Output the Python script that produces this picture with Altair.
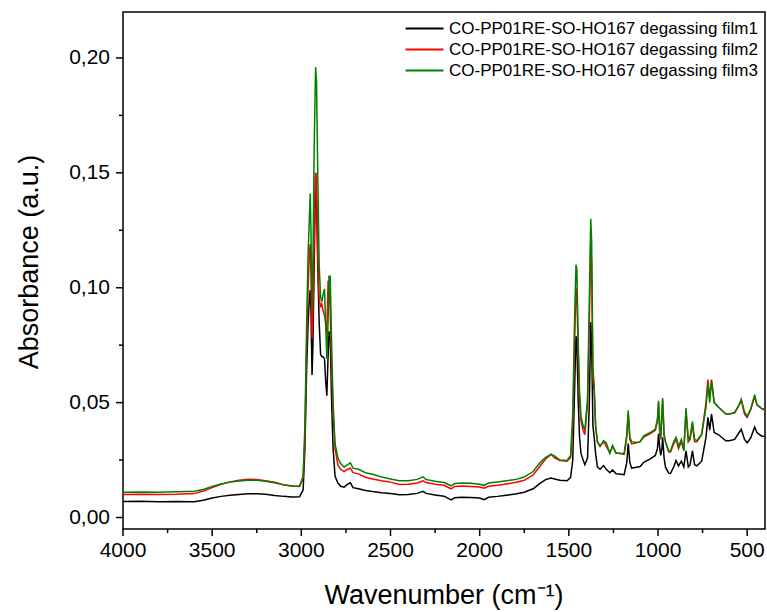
import altair as alt
import pandas as pd

# Wavenumber grid (cm-1) and absorbance of the three films
wavenumber = [4000, 3900, 3800, 3700, 3600, 3550, 3500, 3450, 3400, 3350, 3300, 3250, 3200, 3150, 3100, 3050, 3010,
              2990, 2980, 2970, 2962, 2955, 2950, 2946, 2940, 2935, 2928, 2920, 2915, 2908, 2900, 2892, 2885, 2878,
              2870, 2864, 2857, 2850, 2845, 2838, 2830, 2822, 2811, 2795, 2780, 2760, 2740, 2725, 2710, 2680, 2640,
              2600, 2550, 2500, 2450, 2400, 2350, 2318, 2300, 2250, 2200, 2160, 2140, 2100, 2050, 2000, 1975, 1950,
              1900, 1850, 1800, 1750, 1700, 1660, 1630, 1600, 1580, 1550, 1510, 1490, 1478, 1468, 1460, 1455, 1447,
              1440, 1432, 1420, 1410, 1395, 1385, 1377, 1372, 1365, 1358, 1350, 1340, 1325, 1305, 1290, 1270, 1255,
              1235, 1220, 1190, 1175, 1167, 1158, 1148, 1120, 1100, 1080, 1043, 1015, 1003, 997, 990, 985, 978, 974,
              966, 958, 940, 930, 912, 899, 885, 869, 855, 843, 830, 820, 807, 795, 782, 755, 731, 720, 710, 700,
              685, 660, 620, 600, 570, 545, 533, 515, 500, 480, 458, 445, 420, 400]

film1 = [0.0070, 0.0071, 0.0069, 0.0070, 0.0069, 0.0075, 0.0085, 0.0092, 0.0097, 0.0100, 0.0103, 0.0103, 0.0101,
         0.0096, 0.0092, 0.0089, 0.0090,
         0.0120, 0.030, 0.065, 0.085, 0.095, 0.099, 0.090, 0.062, 0.075, 0.110, 0.150, 0.140, 0.110, 0.085, 0.071,
         0.070, 0.070, 0.069, 0.060, 0.053, 0.070, 0.081, 0.078, 0.050, 0.030, 0.018, 0.015, 0.0136, 0.0132, 0.0145,
         0.0151, 0.0130, 0.0125, 0.0118, 0.0113, 0.0108, 0.0104, 0.0099, 0.0100, 0.0105, 0.0114, 0.0105, 0.0098,
         0.0093, 0.0077, 0.0086, 0.0088, 0.0087, 0.0085, 0.0078, 0.0088, 0.0092, 0.0097, 0.0102, 0.0110, 0.0125,
         0.0150, 0.0165, 0.0172, 0.0168, 0.0162, 0.0160, 0.0175, 0.025, 0.055, 0.079, 0.076, 0.050, 0.035, 0.028,
         0.025, 0.023, 0.026, 0.050, 0.085, 0.075, 0.040, 0.035, 0.028, 0.022, 0.021, 0.0226, 0.021, 0.0195,
         0.0207, 0.0190, 0.0189, 0.0186, 0.024, 0.0322, 0.024, 0.0215, 0.0219, 0.0222, 0.0240, 0.0255, 0.0270,
         0.030, 0.0364, 0.030, 0.027, 0.030, 0.0349, 0.026, 0.0219, 0.0193, 0.0192, 0.022, 0.0248, 0.0225, 0.0245,
         0.0220, 0.0290, 0.0220, 0.023, 0.0290, 0.023, 0.0225, 0.0245, 0.0349, 0.0436, 0.038, 0.0450, 0.037, 0.036,
         0.0334, 0.0334, 0.0340, 0.037, 0.0384, 0.034, 0.0325, 0.0347, 0.0394, 0.037, 0.0355, 0.0352]

film2 = [0.0100, 0.0101, 0.0100, 0.0101, 0.0104, 0.0115, 0.0130, 0.0145, 0.0155, 0.0162, 0.0166, 0.0165, 0.0160,
         0.0153, 0.0143, 0.0137, 0.0135,
         0.0170, 0.035, 0.075, 0.100, 0.115, 0.119, 0.105, 0.078, 0.090, 0.120, 0.150, 0.145, 0.115, 0.095, 0.092,
         0.093, 0.090, 0.088, 0.085, 0.080, 0.103, 0.100, 0.090, 0.065, 0.045, 0.030, 0.023, 0.021, 0.020, 0.021,
         0.0215, 0.0195, 0.0190, 0.0175, 0.0168, 0.0160, 0.0154, 0.0144, 0.0145, 0.0150, 0.0160, 0.0152, 0.0145,
         0.0140, 0.0125, 0.0135, 0.0137, 0.0135, 0.0133, 0.0128, 0.0136, 0.0140, 0.0146, 0.0152, 0.0162, 0.0185,
         0.0225, 0.0255, 0.0275, 0.0260, 0.0248, 0.0245, 0.0260, 0.040, 0.075, 0.100, 0.097, 0.070, 0.050, 0.042,
         0.038, 0.036, 0.050, 0.085, 0.120, 0.110, 0.060, 0.055, 0.040, 0.033, 0.031, 0.0330, 0.031, 0.028,
         0.0310, 0.0280, 0.0280, 0.0275, 0.035, 0.0450, 0.034, 0.032, 0.0325, 0.033, 0.035, 0.0365, 0.0380,
         0.042, 0.050, 0.036, 0.034, 0.045, 0.051, 0.036, 0.033, 0.0285, 0.0285, 0.032, 0.034, 0.030, 0.033,
         0.0295, 0.046, 0.033, 0.034, 0.0405, 0.033, 0.033, 0.036, 0.050, 0.060, 0.052, 0.0600, 0.050, 0.048,
         0.045, 0.045, 0.0455, 0.049, 0.0510, 0.045, 0.0435, 0.047, 0.0525, 0.049, 0.0475, 0.0465]

film3 = [0.0110, 0.0111, 0.0110, 0.0112, 0.0114, 0.0122, 0.0135, 0.0146, 0.0154, 0.0159, 0.0162, 0.0162, 0.0158,
         0.0151, 0.0142, 0.0136, 0.0137,
         0.0180, 0.040, 0.085, 0.115, 0.130, 0.141, 0.125, 0.090, 0.110, 0.160, 0.196, 0.190, 0.150, 0.110, 0.096,
         0.094, 0.097, 0.0995, 0.085, 0.069, 0.085, 0.105, 0.105, 0.075, 0.050, 0.032, 0.026, 0.0235, 0.022, 0.023,
         0.0238, 0.0215, 0.0210, 0.0195, 0.0188, 0.0176, 0.0168, 0.0160, 0.0160, 0.0166, 0.0177, 0.0165, 0.0158,
         0.0152, 0.0138, 0.0148, 0.0150, 0.0149, 0.0145, 0.0140, 0.0150, 0.0155, 0.0160, 0.0165, 0.0176, 0.0200,
         0.0240, 0.0262, 0.0275, 0.0268, 0.0250, 0.0248, 0.0270, 0.045, 0.085, 0.110, 0.108, 0.075, 0.055, 0.044,
         0.040, 0.038, 0.052, 0.095, 0.130, 0.120, 0.065, 0.058, 0.040, 0.033, 0.031, 0.0335, 0.0325, 0.028,
         0.0313, 0.0280, 0.0280, 0.0277, 0.036, 0.0467, 0.035, 0.033, 0.0326, 0.033, 0.0355, 0.0370, 0.0385,
         0.043, 0.0508, 0.037, 0.0348, 0.046, 0.052, 0.036, 0.033, 0.0290, 0.0290, 0.033, 0.0349, 0.031, 0.0340,
         0.0290, 0.0476, 0.0335, 0.035, 0.0418, 0.034, 0.0334, 0.0363, 0.0479, 0.0580, 0.050, 0.0595, 0.050, 0.048,
         0.045, 0.0450, 0.0458, 0.049, 0.0515, 0.046, 0.0440, 0.0473, 0.0535, 0.049, 0.0475, 0.0470]

series_names = ["CO-PP01RE-SO-HO167 degassing film1",
                "CO-PP01RE-SO-HO167 degassing film2",
                "CO-PP01RE-SO-HO167 degassing film3"]
series_colors = ["#000000", "#ff0000", "#008000"]

x_major = [4000, 3500, 3000, 2500, 2000, 1500, 1000, 500]
x_minor = [3750, 3250, 2750, 2250, 1750, 1250, 750]
y_major = [0.0, 0.05, 0.10, 0.15, 0.20]
y_minor = [0.025, 0.075, 0.125, 0.175]
x_title = "Wavenumber (cm⁻¹)"
y_title = "Absorbance (a.u.)"

rows = []
for name, vals in zip(series_names, [film1, film2, film3]):
    for w, a in zip(wavenumber, vals):
        rows.append({"wn": w, "abs": a, "film": name})
df = pd.DataFrame(rows)

FONT = "Liberation Sans"
W, H = 642, 517
x_scale = alt.Scale(domain=[4000, 400], nice=False, zero=False)
y_scale = alt.Scale(domain=[-0.005, 0.22], nice=False, zero=False)

lines = alt.Chart(df).mark_line(strokeWidth=1.5).encode(
    x=alt.X("wn:Q", scale=x_scale, axis=None),
    y=alt.Y("abs:Q", scale=y_scale, axis=None),
    color=alt.Color("film:N",
                    scale=alt.Scale(domain=series_names, range=series_colors),
                    legend=alt.Legend(title=None, orient="none", legendX=293, legendY=8,
                                      symbolType="M-3,0H3", symbolSize=160, symbolStrokeWidth=2,
                                      labelFont=FONT, labelFontSize=17, labelColor="black",
                                      labelLimit=0, labelOffset=16, rowPadding=3, padding=0)),
)


def x_tick_layer(values, length):
    return alt.Chart(pd.DataFrame({"wn": values})).mark_rule(color="black", strokeWidth=1.5).encode(
        x=alt.X("wn:Q", scale=x_scale, axis=None),
        y=alt.value(H),
        y2=alt.value(H + length),
    )


def y_tick_layer(values, length):
    return alt.Chart(pd.DataFrame({"abs": values})).mark_rule(color="black", strokeWidth=1.5).encode(
        y=alt.Y("abs:Q", scale=y_scale, axis=None),
        x=alt.value(0),
        x2=alt.value(-length),
    )


x_labels = alt.Chart(pd.DataFrame({"wn": x_major, "lab": [str(v) for v in x_major]})).mark_text(
    font=FONT, fontSize=21, color="black", align="center", baseline="top"
).encode(
    x=alt.X("wn:Q", scale=x_scale, axis=None),
    y=alt.value(H + 11),
    text="lab:N",
)

y_labels = alt.Chart(pd.DataFrame({"abs": y_major,
                                   "lab": [f"{v:.2f}".replace(".", ",") for v in y_major]})).mark_text(
    font=FONT, fontSize=21, color="black", align="right", baseline="middle"
).encode(
    y=alt.Y("abs:Q", scale=y_scale, axis=None),
    x=alt.value(-13),
    text="lab:N",
)

x_title_layer = alt.Chart(pd.DataFrame({"t": [x_title]})).mark_text(
    font=FONT, fontSize=27, color="black", align="center", baseline="top"
).encode(x=alt.value(W / 2), y=alt.value(H + 54), text="t:N")

y_title_layer = alt.Chart(pd.DataFrame({"t": [y_title]})).mark_text(
    font=FONT, fontSize=27, color="black", align="center", baseline="middle", angle=270
).encode(x=alt.value(-93), y=alt.value(250), text="t:N")

chart = alt.layer(
    lines,
    x_tick_layer(x_major, 7), x_tick_layer(x_minor, 4),
    y_tick_layer(y_major, 7), y_tick_layer(y_minor, 4),
    x_labels, y_labels, x_title_layer, y_title_layer,
).properties(
    width=W, height=H,
    autosize=alt.AutoSizeParams(type="none"),
    padding={"left": 123, "top": 12, "right": 2, "bottom": 83},
    background="white",
).configure_view(stroke="black", strokeWidth=1.5)

chart.save("out.html", embed_options={"renderer": "svg", "actions": False})
